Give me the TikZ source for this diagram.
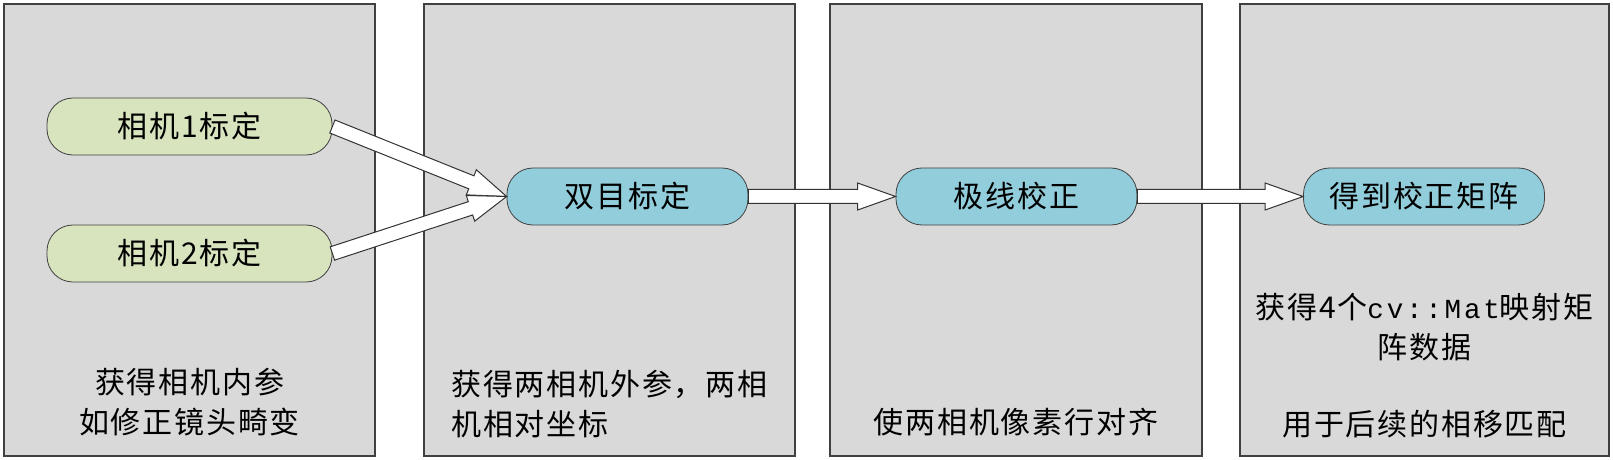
\documentclass[tikz,border=0pt]{standalone}
\usepackage{fontspec}
\setmainfont[LetterSpace=6]{Noto Sans CJK SC}
\setmonofont[LetterSpace=10, Scale=0.92]{Liberation Mono}
\usetikzlibrary{calc}
\definecolor{panelgray}{RGB}{217,217,217}
\definecolor{camgreen}{RGB}{215,228,189}
\definecolor{stepblue}{RGB}{146,205,220}
\tikzstyle{panel} = [draw=black!75, fill=panelgray, line width=0.6pt]
\tikzstyle{camnode} = [draw=black!75, fill=camgreen, rounded corners=13pt, minimum width=142.5pt, minimum height=28.5pt, inner sep=0pt, font=\fontsize{15}{18}\selectfont]
\tikzstyle{stepnode} = [camnode, fill=stepblue, minimum width=120.5pt]
\tikzstyle{note} = [font=\fontsize{15}{20}\selectfont, align=center, inner sep=0pt]
\tikzstyle{fatarrow} = [draw=black!80, fill=white, line width=0.5pt, line join=miter]
% hollow block arrow from #1 to #2
\newcommand{\hollowarrow}[2]{%
  \coordinate (hb) at ($(#2)!19pt!(#1)$);
  \draw[fatarrow] ($(#1)!3.5pt!90:(#2)$) -- ($(hb)!3.5pt!90:(#2)$) -- ($(hb)!6.75pt!90:(#2)$)
    -- (#2) -- ($(hb)!6.75pt!-90:(#2)$) -- ($(hb)!3.5pt!-90:(#2)$) -- ($(#1)!3.5pt!-90:(#2)$) -- cycle;
}

\begin{document}
\begin{tikzpicture}[x=0.5pt, y=-0.5pt]
            \useasboundingbox (0,0) rectangle (1613,460);
            % Panels
            \draw[panel] (4,4) rectangle (375,456);
            \draw[panel] (424,4) rectangle (795,456);
            \draw[panel] (830,4) rectangle (1202,456);
            \draw[panel] (1240,4) rectangle (1609,456);

            % Nodes
            \node[camnode] (cam1) at (189.5,126.5) {相机1标定};
            \node[camnode] (cam2) at (189.5,253.5) {相机2标定};
            \node[stepnode] (stereo) at (627.5,196.5) {双目标定};
            \node[stepnode] (rectify) at (1016.5,196.5) {极线校正};
            \node[stepnode] (matrix) at (1424,196.5) {得到校正矩阵};

            % Notes
            \node[note] (intr) at (189.5,402) {获得相机内参\\如修正镜头畸变};
            \node[note, align=left] (extr) at (609.5,404) {获得两相机外参，两相\\机相对坐标};
            \node[note] (rowal) at (1016,422) {使两相机像素行对齐};
            \node[note] (maps) at (1424.5,327) {获得4个{\ttfamily cv::Mat}映射矩\\阵数据};
            \node[note] (phase) at (1424.5,424) {用于后续的相移匹配};

            % Edges
            \hollowarrow{cam1.east}{stereo.west}
            \hollowarrow{cam2.east}{stereo.west}
            \hollowarrow{stereo.east}{rectify.west}
            \hollowarrow{rectify.east}{matrix.west}
        \end{tikzpicture}
\end{document}
